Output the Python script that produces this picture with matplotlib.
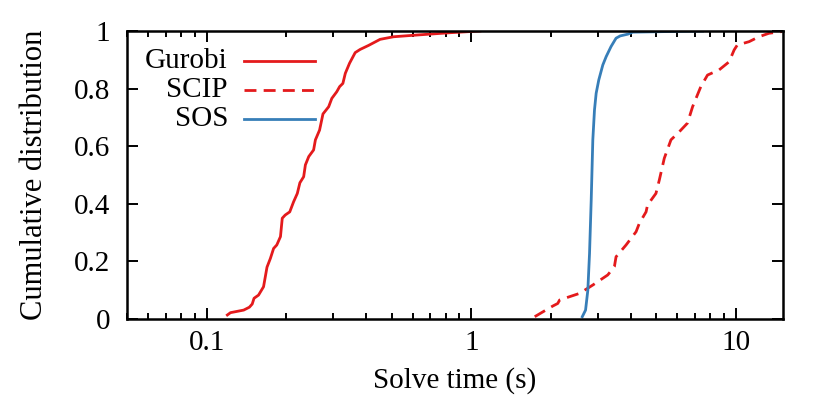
# CDF of solve times for Gurobi, SCIP and SOS

import matplotlib
matplotlib.use("Agg")
import matplotlib.pyplot as plt
from matplotlib.ticker import FixedLocator, FuncFormatter, LogLocator, NullFormatter

# values (solve time in s, cumulative fraction)
gurobi_t = [0.1197, 0.123, 0.138, 0.145, 0.1486, 0.151, 0.157, 0.164, 0.169, 0.174,
            0.179, 0.184, 0.190, 0.193, 0.198, 0.206, 0.213, 0.220, 0.225, 0.2325,
            0.236, 0.243, 0.2535, 0.2575, 0.267, 0.275, 0.289, 0.297, 0.310, 0.318,
            0.327, 0.334, 0.3465, 0.364, 0.380, 0.409, 0.452, 0.508, 0.622, 0.830, 1.077]
gurobi_p = [0.014, 0.022, 0.031, 0.041, 0.052, 0.072, 0.083, 0.112, 0.18, 0.21,
            0.245, 0.257, 0.286, 0.35, 0.361, 0.372, 0.407, 0.436, 0.473, 0.494,
            0.535, 0.564, 0.587, 0.622, 0.656, 0.712, 0.737, 0.766, 0.789, 0.807,
            0.818, 0.853, 0.888, 0.925, 0.936, 0.950, 0.971, 0.980, 0.986, 0.994, 1.0]

scip_t = [1.735, 1.864, 2.03, 2.12, 2.154, 2.563, 2.876, 3.275, 3.47, 3.52,
          3.84, 4.19, 4.31, 4.57, 4.63, 4.98, 5.13, 5.355, 5.675, 6.1,
          6.55, 6.85, 7.36, 7.80, 8.63, 9.41, 9.83, 10.1, 11.2, 12.2, 13.3, 14.9]
scip_p = [0.008, 0.025, 0.045, 0.054, 0.066, 0.089, 0.118, 0.153, 0.182, 0.216,
          0.257, 0.303, 0.332, 0.372, 0.396, 0.436, 0.483, 0.558, 0.622, 0.650,
          0.68, 0.737, 0.807, 0.847, 0.865, 0.893, 0.934, 0.951, 0.963, 0.980, 0.992, 0.998]

sos_t = [2.624, 2.70, 2.754, 2.795, 2.836, 2.876, 2.918, 2.961, 3.029, 3.137,
         3.23, 3.37, 3.52, 3.65, 3.90, 4.07, 5.43, 7.47]
sos_p = [0.008, 0.031, 0.10, 0.228, 0.413, 0.622, 0.726, 0.784, 0.830, 0.882,
         0.911, 0.946, 0.975, 0.983, 0.989, 0.996, 0.998, 1.0]

labels = ["Gurobi", "SCIP", "SOS"]
red = "#e41a1c"
blue = "#377eb8"
dash = (0, (4.3, 2.6))

plt.rcParams["font.family"] = ["Liberation Serif", "DejaVu Serif"]
plt.rcParams["font.size"] = 21

fig = plt.figure(figsize=(8.3, 4.15), dpi=100)
ax = fig.add_axes([0.153, 0.2313, 0.79, 0.694])

lw = 2.0
series = [
    (gurobi_t, gurobi_p, red, "-"),
    (scip_t, scip_p, red, dash),
    (sos_t, sos_p, blue, "-"),
]
for t, p, c, ls in series:
    ax.plot(t, p, color=c, lw=lw, linestyle=ls)

ax.set_xscale("log")
ax.set_xlim(0.05, 15)
ax.set_ylim(0, 1)

ax.xaxis.set_major_locator(FixedLocator([0.1, 1, 10]))
ax.xaxis.set_major_formatter(FuncFormatter(lambda v, p: "%g" % v))
ax.xaxis.set_minor_locator(LogLocator(base=10, subs=range(2, 10), numticks=20))
ax.xaxis.set_minor_formatter(NullFormatter())
ax.set_yticks([0, 0.2, 0.4, 0.6, 0.8, 1])
ax.yaxis.set_major_formatter(FuncFormatter(lambda v, p: "%g" % v))

ax.tick_params(which="both", direction="in", top=True, right=True, width=1.4)
ax.tick_params(which="major", length=8)
ax.tick_params(which="minor", length=4)
ax.tick_params(axis="x", pad=8)
ax.tick_params(axis="y", pad=12)
for s in ax.spines.values():
    s.set_linewidth(1.8)

ax.set_xlabel("Solve time (s)", labelpad=8)
ax.set_ylabel("Cumulative distribution", labelpad=18, fontsize=22)

# gnuplot style key: right aligned text, sample line after it
for i, (lab, (t, p, c, ls)) in enumerate(zip(labels, series)):
    y = 0.896 - i * 0.1005
    ax.text(0.154, y, lab, transform=ax.transAxes, ha="right", va="center")
    ax.plot([0.178, 0.287], [y, y], transform=ax.transAxes, color=c, lw=lw, linestyle=ls)

fig.savefig("out.png", dpi=100)
